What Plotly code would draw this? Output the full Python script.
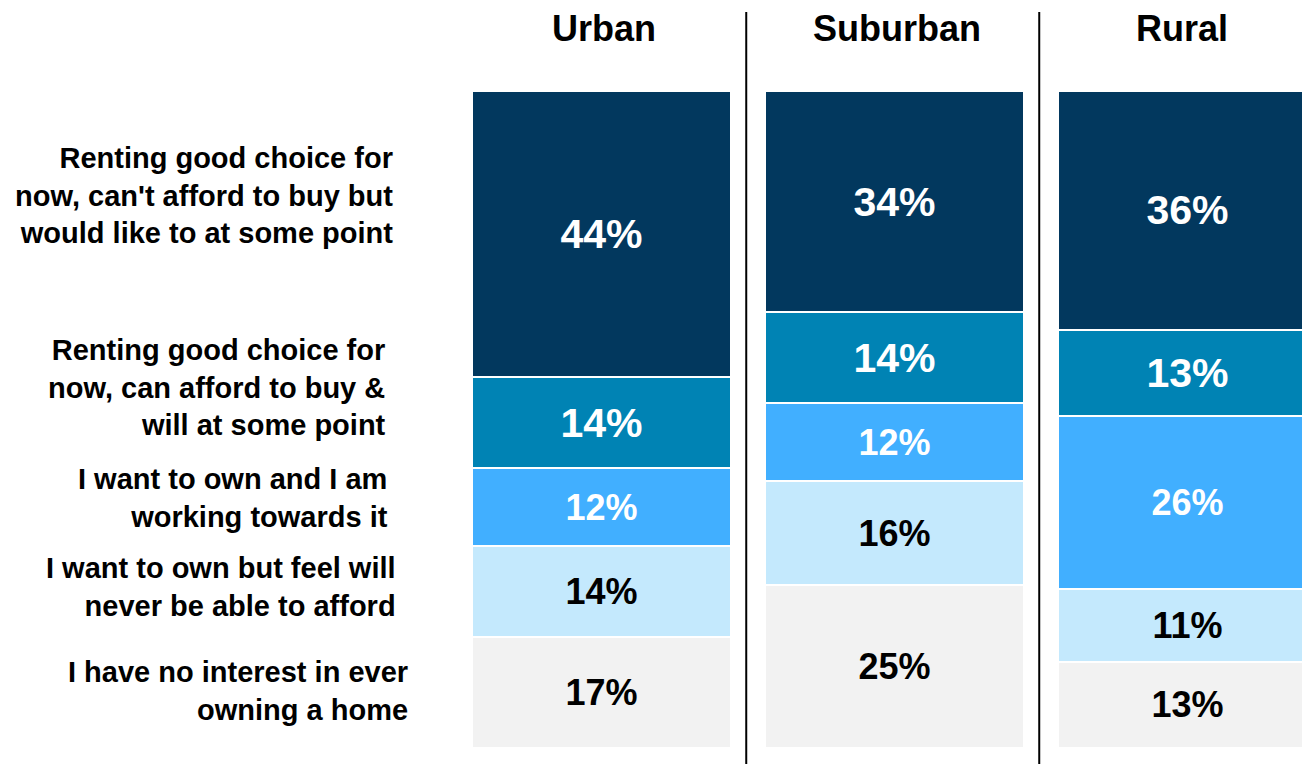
import plotly.graph_objects as go

regions = ["Urban", "Suburban", "Rural"]

no_interest = [17, 25, 13]
never_afford = [14, 16, 11]
working_towards = [12, 12, 26]
can_afford = [14, 14, 13]
cant_afford = [44, 34, 36]

series = [
    ("I have no interest in ever<br>owning a home", no_interest, "#F2F2F2", "black", 36),
    ("I want to own but feel will<br>never be able to afford", never_afford, "#C4E9FD", "black", 36),
    ("I want to own and I am<br>working towards it", working_towards, "#41AFFF", "white", 36),
    ("Renting good choice for<br>now, can afford to buy &<br>will at some point", can_afford, "#0083B4", "white", 41),
    ("Renting good choice for<br>now, can't afford to buy but<br>would like to at some point", cant_afford, "#02385E", "white", 41),
]

FONT = "Liberation Sans, Arial, sans-serif"
W, H = 1302, 764
TOP, BOTTOM = 91, 16
PLOT_H = H - TOP - BOTTOM
PITCH = 293.0
URBAN_CENTER = 601.5

fig = go.Figure()
for name, vals, color, tcolor, tsize in series:
    fig.add_trace(go.Bar(
        x=regions, y=vals, name=name,
        marker=dict(color=color, line=dict(color="white", width=2)),
        text=vals, texttemplate="<b>%{text}%</b>",
        textposition="inside", insidetextanchor="middle",
        textfont=dict(family=FONT, size=tsize, color=tcolor),
        hoverinfo="skip", showlegend=False,
    ))

# left category labels (right aligned, paper coords)
label_pos = [  # (right edge px, center y px)
    (410, 690.5), (398, 587), (390, 497.5), (388, 387), (395, 195),
]
annotations = []
for (name, *_), (rx, cy) in zip(series, label_pos):
    annotations.append(dict(
        text="<b>" + name + "</b>", xref="paper", yref="paper",
        x=rx / W, y=(H - BOTTOM - cy) / PLOT_H, xanchor="right", yanchor="middle",
        align="right", showarrow=False,
        font=dict(family=FONT, size=29, color="black"),
    ))

# column titles
title_shift = [2, 2, -6]
for i, r in enumerate(regions):
    annotations.append(dict(
        text="<b>" + r + "</b>", xref="x", yref="paper", x=r,
        y=(H - BOTTOM - 28) / PLOT_H, xanchor="center", yanchor="middle",
        xshift=title_shift[i], showarrow=False,
        font=dict(family=FONT, size=36, color="black"),
    ))

shapes = []
for xv in (0.5, 1.5):
    shapes.append(dict(
        type="line", xref="x", yref="paper", x0=xv - 0.006, x1=xv - 0.006,
        y0=-BOTTOM / PLOT_H, y1=(H - BOTTOM - 12) / PLOT_H,
        line=dict(color="black", width=2),
    ))

x0 = -URBAN_CENTER / PITCH
x1 = x0 + W / PITCH

fig.update_layout(
    width=W, height=H,
    barmode="stack", barnorm="percent", bargap=0.116,
    margin=dict(l=0, r=0, t=TOP, b=BOTTOM, pad=0),
    paper_bgcolor="white", plot_bgcolor="white",
    xaxis=dict(range=[x0, x1], visible=False, fixedrange=True),
    yaxis=dict(range=[0, 100], visible=False, fixedrange=True),
    annotations=annotations, shapes=shapes,
    font=dict(family=FONT),
)

fig.write_html(
    "out.html",
    config={"displayModeBar": False},
    post_script="document.body.style.margin='0';document.body.style.overflow='hidden';",
)
